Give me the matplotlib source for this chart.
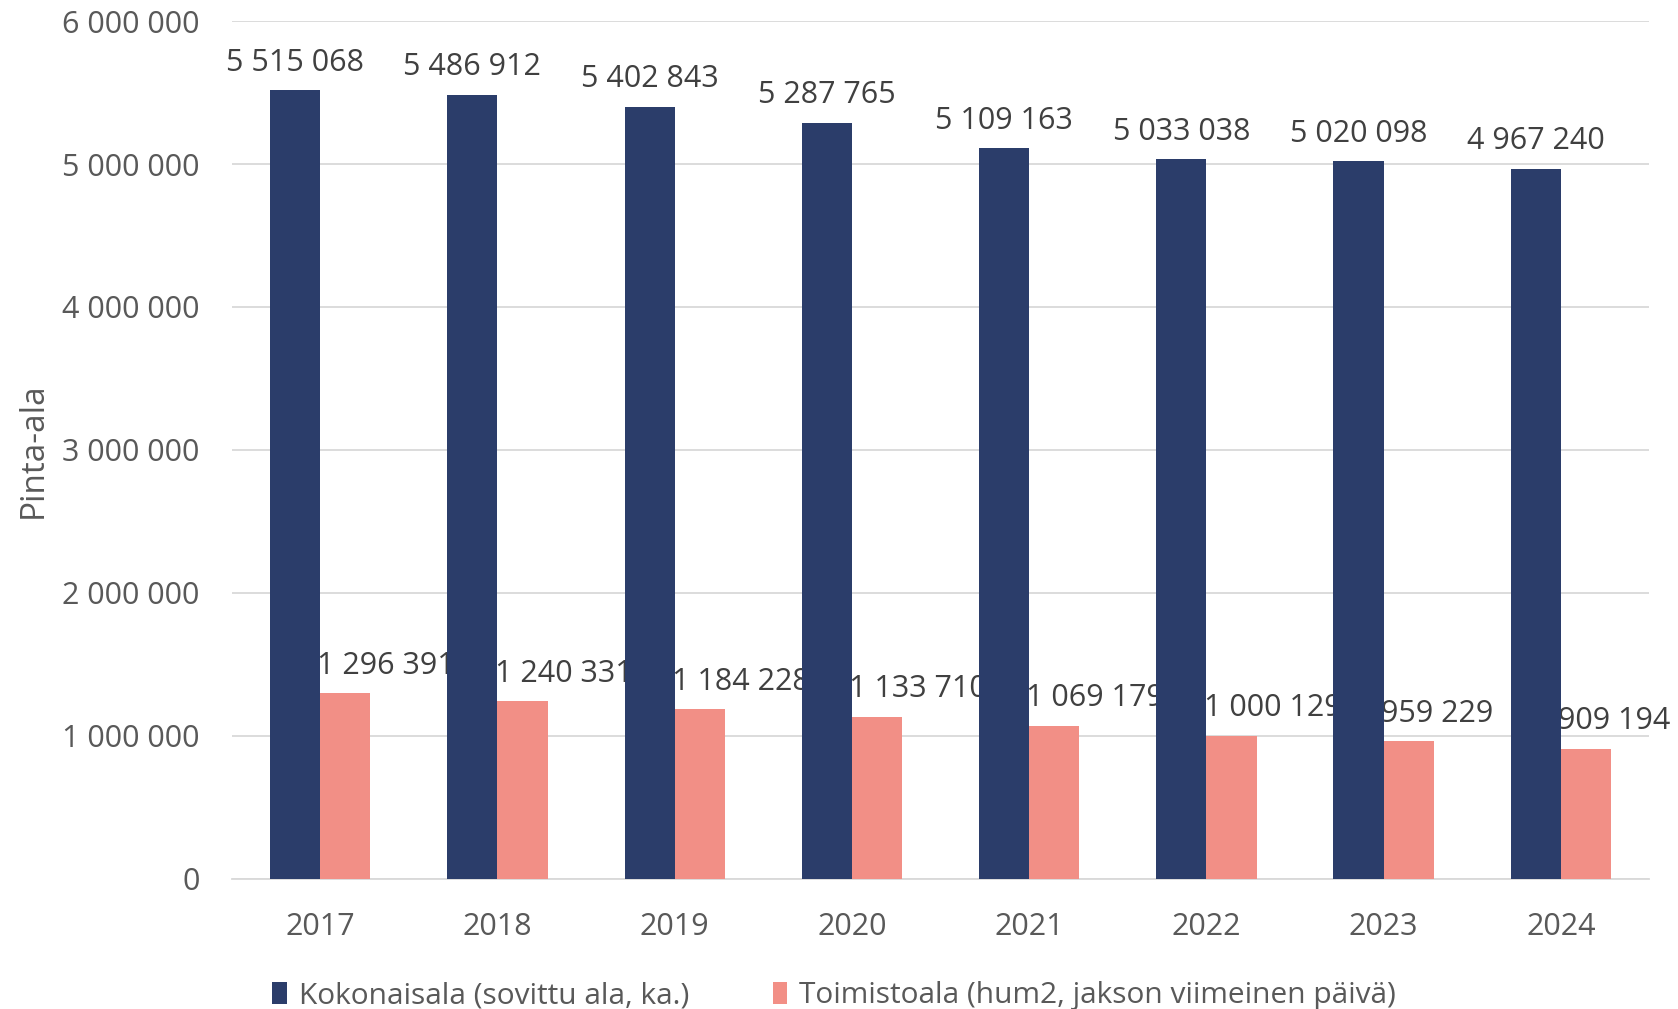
import matplotlib.pyplot as plt
import numpy as np
from matplotlib.ticker import FuncFormatter

vuodet = ["2017", "2018", "2019", "2020", "2021", "2022", "2023", "2024"]
kokonaisala = [5515068, 5486912, 5402843, 5287765, 5109163, 5033038, 5020098, 4967240]
toimistoala = [1296391, 1240331, 1184228, 1133710, 1069179, 1000129, 959229, 909194]
sarjat = ["Kokonaisala (sovittu ala, ka.)", "Toimistoala (hum2, jakson viimeinen päivä)"]

plt.rcParams["font.family"] = ["Open Sans", "DejaVu Sans"]

NAVY = "#2B3D6A"
PINK = "#F28F86"
FS = 22


def fmt(v):
    return f"{int(v):,}".replace(",", " ")


fig = plt.figure(figsize=(16.78, 10.09), dpi=100)
ax = fig.add_axes([0.138, 0.1293, 0.845, 0.8497])

x = np.arange(len(vuodet))
w = 0.283
b1 = ax.bar(x - w / 2, kokonaisala, w, color=NAVY, label=sarjat[0], zorder=3)
b2 = ax.bar(x + w / 2, toimistoala, w, color=PINK, label=sarjat[1], zorder=3)

# === Arvot pylväiden päälle
for rect, v in zip(b1, kokonaisala):
    ax.annotate(fmt(v), (rect.get_x() + rect.get_width() / 2, v),
                xytext=(0, 9), textcoords="offset points",
                ha="center", va="bottom", fontsize=FS, color="#404040", zorder=2)
for rect, v in zip(b2, toimistoala):
    ax.annotate(fmt(v), (rect.get_x(), v),
                xytext=(-2, 9), textcoords="offset points",
                ha="left", va="bottom", fontsize=FS, color="#404040", zorder=2)

ax.set_xlim(-0.5, len(vuodet) - 0.5)
ax.set_ylim(0, 6000000)
ax.set_yticks(np.arange(0, 6000001, 1000000))
ax.yaxis.set_major_formatter(FuncFormatter(lambda v, p: fmt(v)))
ax.set_xticks(x)
ax.set_xticklabels(vuodet)
ax.tick_params(axis="both", length=0, labelsize=FS, labelcolor="#595959")
ax.tick_params(axis="x", pad=24)
ax.tick_params(axis="y", pad=23)
ax.grid(axis="y", color="#D9D9D9", linewidth=1.3, zorder=0)
for s in ["top", "right", "left"]:
    ax.spines[s].set_visible(False)
ax.spines["bottom"].set_color("#D9D9D9")
ax.spines["bottom"].set_linewidth(1.3)

ax.set_ylabel("Pinta-ala", fontsize=24, color="#595959", labelpad=9)

fig.legend(loc="lower center", bbox_to_anchor=(0.497, -0.028), ncol=2, frameon=False,
           fontsize=21.5, labelcolor="#595959", handlelength=0.5, handleheight=0.8,
           handletextpad=0.4, columnspacing=2.8)

fig.savefig("out.png", dpi=100)
